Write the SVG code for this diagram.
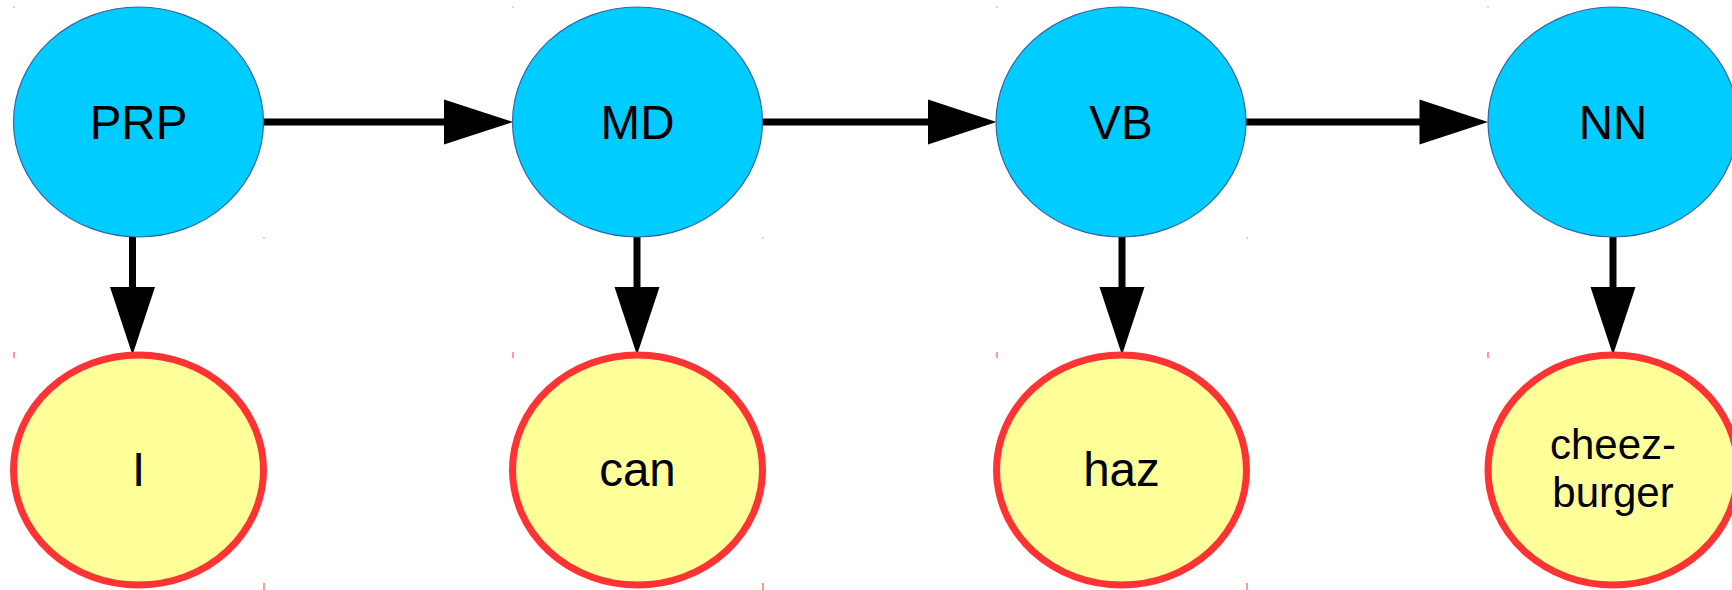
<svg xmlns="http://www.w3.org/2000/svg" width="1732" height="590" viewBox="0 0 1732 590">
<style>
.tag{fill:#00ccff;stroke:#3465a4;stroke-width:1.2}
.word{fill:#ffff99;stroke:#ff3333;stroke-width:7}
.t{font-family:"Liberation Sans",Arial,sans-serif;font-size:47.5px;fill:#000;text-anchor:middle}
.t2{font-family:"Liberation Sans",Arial,sans-serif;font-size:42px;fill:#000;text-anchor:middle}
.ln{stroke:#000;stroke-width:7;fill:none}
.hd{fill:#000}
.bm{stroke:#3465a4;stroke-width:1}
.rm{stroke:#ff3333;stroke-width:1}
</style>
<rect width="1732" height="590" fill="#fff"/>
<g id="marks">
<line class="bm" x1="14" y1="6.5" x2="14" y2="7.5"/>
<line class="bm" x1="513" y1="6.5" x2="513" y2="7.5"/>
<line class="bm" x1="997" y1="6.5" x2="997" y2="7.5"/>
<line class="bm" x1="1488" y1="6.5" x2="1488" y2="7.5"/>
<line class="bm" x1="264" y1="237.5" x2="264" y2="238.5"/>
<line class="bm" x1="763" y1="237.5" x2="763" y2="238.5"/>
<line class="bm" x1="1247" y1="237.5" x2="1247" y2="238.5"/>
<line class="rm" x1="14" y1="352" x2="14" y2="358"/>
<line class="rm" x1="513" y1="352" x2="513" y2="358"/>
<line class="rm" x1="997" y1="352" x2="997" y2="358"/>
<line class="rm" x1="1488" y1="352" x2="1488" y2="358"/>
<line class="rm" x1="264" y1="583" x2="264" y2="590"/>
<line class="rm" x1="763" y1="583" x2="763" y2="590"/>
<line class="rm" x1="1247" y1="583" x2="1247" y2="590"/>
</g>
<g id="connectors">
<line class="ln" x1="263" y1="122" x2="446" y2="122"/>
<polygon class="hd" points="444,99.5 513,122 444,144.5"/>
<line class="ln" x1="762" y1="122" x2="930" y2="122"/>
<polygon class="hd" points="928,99.5 996.5,122 928,144.5"/>
<line class="ln" x1="1246" y1="122" x2="1421" y2="122"/>
<polygon class="hd" points="1419.5,99.5 1488,122 1419.5,144.5"/>
<line class="ln" x1="132.5" y1="237" x2="132.5" y2="289"/>
<polygon class="hd" points="110,287 132.5,355 155,287"/>
<line class="ln" x1="637" y1="237" x2="637" y2="289"/>
<polygon class="hd" points="614.5,287 637,355 659.5,287"/>
<line class="ln" x1="1122" y1="237" x2="1122" y2="289"/>
<polygon class="hd" points="1099.5,287 1122,355 1144.5,287"/>
<line class="ln" x1="1613" y1="237" x2="1613" y2="289"/>
<polygon class="hd" points="1590.5,287 1613,355 1635.5,287"/>
</g>
<g id="PRP">
<ellipse class="tag" cx="138.5" cy="122" rx="125" ry="115"/>
<text class="t" x="138.5" y="139">PRP</text>
</g>
<g id="MD">
<ellipse class="tag" cx="637.5" cy="122" rx="125" ry="115"/>
<text class="t" x="637.5" y="139">MD</text>
</g>
<g id="VB">
<ellipse class="tag" cx="1121" cy="122" rx="125" ry="115"/>
<text class="t" x="1121" y="139">VB</text>
</g>
<g id="NN">
<ellipse class="tag" cx="1613" cy="122" rx="125" ry="115"/>
<text class="t" x="1613" y="139">NN</text>
</g>
<g id="I">
<ellipse class="word" cx="138.5" cy="470" rx="125" ry="115"/>
<text class="t" x="138.5" y="486">I</text>
</g>
<g id="can">
<ellipse class="word" cx="637.5" cy="470" rx="125" ry="115"/>
<text class="t" x="637.5" y="486">can</text>
</g>
<g id="haz">
<ellipse class="word" cx="1121.5" cy="470" rx="125" ry="115"/>
<text class="t" x="1121.5" y="486">haz</text>
</g>
<g id="cheezburger">
<ellipse class="word" cx="1613" cy="470" rx="125" ry="115"/>
<text class="t2" x="1613" y="459">cheez-</text>
<text class="t2" x="1613" y="507">burger</text>
</g>
</svg>
